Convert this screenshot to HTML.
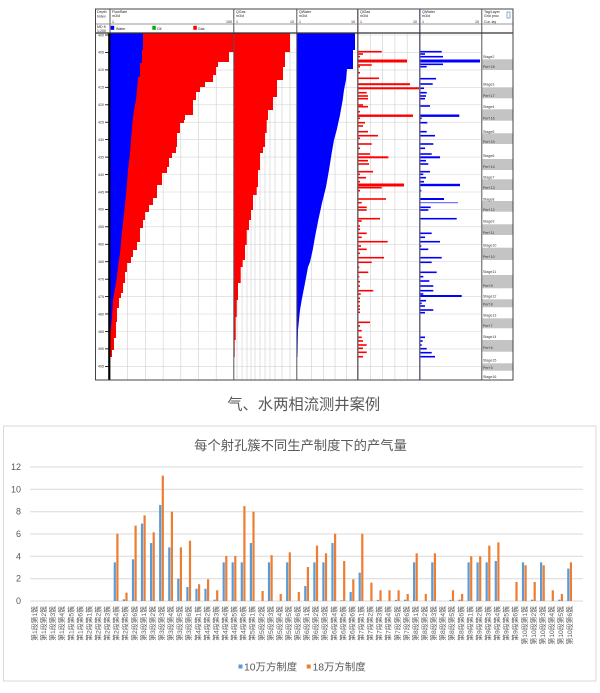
<!DOCTYPE html>
<html><head><meta charset="utf-8"><style>
html,body{margin:0;padding:0;background:#fff;}
body{width:600px;height:693px;overflow:hidden;}
svg{display:block;}
</style></head><body>
<svg width="600" height="693" viewBox="0 0 600 693" xmlns="http://www.w3.org/2000/svg" font-family="'Liberation Sans','Noto Sans CJK SC',sans-serif">
<rect x="0" y="0" width="600" height="693" fill="#fff"/>

<!-- ============ LOG CHART ============ -->
<!-- horizontal gridlines -->
<g stroke="#d6d6d6" stroke-width="0.6">
<line x1="110" y1="35" x2="481" y2="35"/><line x1="110" y1="52.4" x2="481" y2="52.4"/><line x1="110" y1="69.9" x2="481" y2="69.9"/><line x1="110" y1="87.3" x2="481" y2="87.3"/><line x1="110" y1="104.8" x2="481" y2="104.8"/><line x1="110" y1="122.2" x2="481" y2="122.2"/><line x1="110" y1="139.6" x2="481" y2="139.6"/><line x1="110" y1="157.1" x2="481" y2="157.1"/><line x1="110" y1="174.5" x2="481" y2="174.5"/><line x1="110" y1="192" x2="481" y2="192"/><line x1="110" y1="209.4" x2="481" y2="209.4"/><line x1="110" y1="226.8" x2="481" y2="226.8"/><line x1="110" y1="244.3" x2="481" y2="244.3"/><line x1="110" y1="261.7" x2="481" y2="261.7"/><line x1="110" y1="279.2" x2="481" y2="279.2"/><line x1="110" y1="296.6" x2="481" y2="296.6"/><line x1="110" y1="314" x2="481" y2="314"/><line x1="110" y1="331.5" x2="481" y2="331.5"/><line x1="110" y1="348.9" x2="481" y2="348.9"/><line x1="110" y1="366.4" x2="481" y2="366.4"/>
</g>
<!-- vertical gridlines -->
<g stroke="#cfcfcf" stroke-width="0.6">
<line x1="127.7" y1="33" x2="127.7" y2="380"/><line x1="145.4" y1="33" x2="145.4" y2="380"/><line x1="163.1" y1="33" x2="163.1" y2="380"/><line x1="180.8" y1="33" x2="180.8" y2="380"/><line x1="198.5" y1="33" x2="198.5" y2="380"/><line x1="216.2" y1="33" x2="216.2" y2="380"/>
<line x1="237" y1="33" x2="237" y2="380"/><line x1="242" y1="33" x2="242" y2="380"/><line x1="247" y1="33" x2="247" y2="380"/><line x1="251" y1="33" x2="251" y2="380"/><line x1="255" y1="33" x2="255" y2="380"/><line x1="260" y1="33" x2="260" y2="380"/><line x1="265" y1="33" x2="265" y2="380"/><line x1="270" y1="33" x2="270" y2="380"/><line x1="275" y1="33" x2="275" y2="380"/><line x1="282" y1="33" x2="282" y2="380"/><line x1="290" y1="33" x2="290" y2="380"/>
<line x1="311.5" y1="33" x2="311.5" y2="380"/><line x1="323.5" y1="33" x2="323.5" y2="380"/><line x1="335" y1="33" x2="335" y2="380"/><line x1="346.5" y1="33" x2="346.5" y2="380"/>
<line x1="370.3" y1="33" x2="370.3" y2="380"/><line x1="382.6" y1="33" x2="382.6" y2="380"/><line x1="394.9" y1="33" x2="394.9" y2="380"/><line x1="407.2" y1="33" x2="407.2" y2="380"/>
</g>

<!-- Track 1 red -->
<polygon fill="#ff0000" points="110,33 233.5,33 233.5,52 229,52 229,62 218,62 218,67 216,67 216,75 213,75 213,82 205,82 205,87 200,87 200,92 196,92 196,100 193,100 193,115 185,115 185,120 184,120 184,123 180,123 180,133 177,133 177,147 176,147 176,153 172,153 172,158 169,158 169,167 167,167 167,173 162,173 162,185 157,185 157,198 153,198 153,205 149,205 149,212 145,212 145,220 143,220 143,228 140,228 140,242 137,242 137,250 133,250 133,257 131,257 131,263 127,263 127,272 125,272 125,283 123,283 123,293 121,293 121,298 119,298 119,308 117,308 117,322 116,322 116,338 114,338 114,350 112,350 112,357 110,357"/>
<!-- Track 1 blue -->
<polygon fill="#0000ff" points="110,33 143,33 143,50 142,50 142,63 140,63 140,77 138,77 137,90 136,100 134,110 132.7,120 131,140 130,153 128,170 126.7,187 125,205 123.3,220 121.5,237 120,253 118,267 116,283 113,300 112,317 110.5,333 110,350"/>
<!-- Track 2 red -->
<polygon fill="#ff0000" points="234,33 290,33 290,52 285,52 285,67 283,67 283,80 277,80 277,97 273,97 273,110 268,110 268,120 266.7,120 266.7,133 265,133 265,147 263,147 263,153 260,153 260,170 258,170 258,187 256.7,187 256.7,195 253,195 253,210 251,210 251,220 249,220 249,230 246.7,230 246.7,245 245,245 245,260 242.7,260 242.7,267 240.7,267 240.7,283 238,283 238,300 236.7,300 236.7,317 235.7,317 235.7,340 234.7,340 234.7,357 234,357"/>
<!-- Track 3 blue -->
<polygon fill="#0000ff" points="297,33 355,33 355,50 353,50 353,69 347,69 346,80 344,90 342.7,100 340,115 336.7,130 334,140 331.7,153 329,170 326,187 322,203 318.3,220 315,237 312.7,250 310,262 308,267 305,283 301.7,300 300,310 298,330 297.5,357 297,357"/>

<!-- Track 4 red bars -->
<g fill="#ff0000">
<rect x="358.3" y="50.9" width="23.4" height="1.6"/><rect x="358.3" y="53.2" width="4.7" height="1.6"/><rect x="358.3" y="55.9" width="1.7" height="1.6"/><rect x="358.3" y="59.5" width="48.7" height="3"/><rect x="358.3" y="64.2" width="13.4" height="1.6"/><rect x="358.3" y="65.9" width="1.7" height="1.6"/><rect x="358.3" y="71.9" width="1.7" height="1.6"/><rect x="358.3" y="77.5" width="20.7" height="1.6"/><rect x="358.3" y="83.2" width="51.7" height="2"/><rect x="358.3" y="87.3" width="60.7" height="2"/><rect x="358.3" y="91.9" width="8.4" height="1.6"/><rect x="358.3" y="95.2" width="9.7" height="1.6"/><rect x="358.3" y="97.9" width="9.7" height="1.6"/><rect x="358.3" y="104.2" width="4.7" height="1.6"/><rect x="358.3" y="105.9" width="9.7" height="1.6"/><rect x="358.3" y="110.9" width="1.7" height="1.6"/><rect x="358.3" y="114.5" width="54.7" height="2.4"/><rect x="358.3" y="117.5" width="1.7" height="1.6"/><rect x="358.3" y="121.9" width="6.7" height="1.6"/><rect x="358.3" y="125.2" width="4.7" height="1.6"/><rect x="358.3" y="130.9" width="9.7" height="1.6"/><rect x="358.3" y="134.9" width="19.7" height="1.6"/><rect x="358.3" y="137.5" width="1.7" height="1.6"/><rect x="358.3" y="143.2" width="13.4" height="1.6"/><rect x="358.3" y="147.5" width="1.7" height="1.6"/><rect x="358.3" y="153.2" width="11.7" height="1.6"/><rect x="358.3" y="156.3" width="30" height="2"/><rect x="358.3" y="159.9" width="9.7" height="1.6"/><rect x="358.3" y="163.2" width="10.7" height="1.6"/><rect x="358.3" y="170.9" width="14.7" height="1.6"/><rect x="358.3" y="173.5" width="1.7" height="1.6"/><rect x="358.3" y="176.9" width="7.7" height="1.6"/><rect x="358.3" y="180.9" width="1.7" height="1.6"/><rect x="358.3" y="183.5" width="45.7" height="3"/><rect x="358.3" y="186.9" width="23.4" height="1.6"/><rect x="358.3" y="189.9" width="1.7" height="1.6"/><rect x="358.3" y="198.2" width="27.7" height="1.6"/><rect x="358.3" y="201.9" width="3.4" height="1.6"/><rect x="358.3" y="206.5" width="8.4" height="1.6"/><rect x="358.3" y="209.2" width="8.4" height="1.6"/><rect x="358.3" y="217.9" width="21.7" height="1.6"/><rect x="358.3" y="220.2" width="3.4" height="1.6"/><rect x="358.3" y="225.2" width="1.7" height="1.6"/><rect x="358.3" y="228.5" width="1.7" height="1.6"/><rect x="358.3" y="232.5" width="8.4" height="1.6"/><rect x="358.3" y="236.5" width="3.4" height="1.6"/><rect x="358.3" y="240.9" width="29.4" height="1.6"/><rect x="358.3" y="245.2" width="2.7" height="1.6"/><rect x="358.3" y="248.5" width="8.4" height="1.6"/><rect x="358.3" y="252.5" width="1.7" height="1.6"/><rect x="358.3" y="256.9" width="25.7" height="1.6"/><rect x="358.3" y="261.5" width="13.4" height="1.6"/><rect x="358.3" y="266.5" width="1" height="1.6"/><rect x="358.3" y="271.5" width="10" height="1.6"/><rect x="358.3" y="275.9" width="1" height="1.6"/><rect x="358.3" y="280.9" width="1.7" height="1.6"/><rect x="358.3" y="285.2" width="1.7" height="1.6"/><rect x="358.3" y="289.9" width="15" height="1.6"/><rect x="358.3" y="293.2" width="2.4" height="1.6"/><rect x="358.3" y="297.5" width="1.7" height="1.6"/><rect x="358.3" y="300.9" width="1.7" height="1.6"/><rect x="358.3" y="305.2" width="1.7" height="1.6"/><rect x="358.3" y="308.5" width="1.7" height="1.6"/><rect x="358.3" y="311.5" width="1.7" height="1.6"/><rect x="358.3" y="321.5" width="11.7" height="1.6"/><rect x="358.3" y="325.2" width="1.7" height="1.6"/><rect x="358.3" y="329.9" width="3.4" height="1.6"/><rect x="358.3" y="336.5" width="3.4" height="1.6"/><rect x="358.3" y="340.2" width="4.7" height="1.6"/><rect x="358.3" y="344.2" width="8.4" height="1.6"/><rect x="358.3" y="347.5" width="4.7" height="1.6"/><rect x="358.3" y="351.5" width="8.4" height="1.6"/><rect x="358.3" y="355.9" width="4.7" height="1.6"/>
</g>
<!-- Track 5 blue bars -->
<g fill="#0000ff">
<rect x="420.3" y="50.9" width="21.4" height="1.6"/><rect x="420.3" y="53.2" width="4.7" height="1.6"/><rect x="420.3" y="55.9" width="22.7" height="1.6"/><rect x="420.3" y="59.5" width="59.7" height="3"/><rect x="420.3" y="63.5" width="22.7" height="1.6"/><rect x="420.3" y="65.9" width="6.4" height="1.6"/><rect x="420.3" y="77.9" width="15.7" height="1.6"/><rect x="420.3" y="83.2" width="12.4" height="1.6"/><rect x="420.3" y="87.5" width="3.7" height="1.6"/><rect x="420.3" y="91.9" width="6.4" height="1.6"/><rect x="420.3" y="95.2" width="5.7" height="1.6"/><rect x="420.3" y="97.9" width="4.7" height="1.6"/><rect x="420.3" y="105.2" width="9.7" height="1.6"/><rect x="420.3" y="114.5" width="39" height="2.4"/><rect x="420.3" y="117.5" width="1.4" height="1.6"/><rect x="420.3" y="121.9" width="7" height="1.6"/><rect x="420.3" y="130.9" width="6.4" height="1.6"/><rect x="420.3" y="134.9" width="14.7" height="1.6"/><rect x="420.3" y="143.2" width="13" height="1.6"/><rect x="420.3" y="147.5" width="4.7" height="1.6"/><rect x="420.3" y="153.2" width="11.4" height="1.6"/><rect x="420.3" y="156.3" width="19.7" height="2"/><rect x="420.3" y="159.9" width="5.7" height="1.6"/><rect x="420.3" y="163.2" width="8" height="1.6"/><rect x="420.3" y="170.9" width="9.7" height="1.6"/><rect x="420.3" y="173.5" width="3" height="1.6"/><rect x="420.3" y="176.9" width="5.7" height="1.6"/><rect x="420.3" y="180.9" width="3.7" height="1.6"/><rect x="420.3" y="183.8" width="39.7" height="2.4"/><rect x="420.3" y="189.9" width="1" height="1.6"/><rect x="420.3" y="198" width="23.7" height="2"/><rect x="420.3" y="202.2" width="37.7" height="1" fill="#5555ff"/><rect x="420.3" y="206.5" width="10.4" height="1.6"/><rect x="420.3" y="209.2" width="8" height="1.6"/><rect x="420.3" y="217.9" width="36.4" height="1.6"/><rect x="420.3" y="232.5" width="11.4" height="1.6"/><rect x="420.3" y="236.5" width="4.7" height="1.6"/><rect x="420.3" y="240.9" width="19.7" height="1.6"/><rect x="420.3" y="245.2" width="1" height="1.6"/><rect x="420.3" y="248.5" width="8" height="1.6"/><rect x="420.3" y="256.9" width="21.4" height="1.6"/><rect x="420.3" y="261.5" width="11.4" height="1.6"/><rect x="420.3" y="271.5" width="16.4" height="1.6"/><rect x="420.3" y="275.9" width="3" height="1.6"/><rect x="420.3" y="280.2" width="9" height="1.6"/><rect x="420.3" y="285.2" width="13" height="1.6"/><rect x="420.3" y="289.9" width="13" height="1.6"/><rect x="420.3" y="293.2" width="3" height="1.6"/><rect x="420.3" y="295" width="41.4" height="2"/><rect x="420.3" y="299.9" width="5.7" height="1.6"/><rect x="420.3" y="302.5" width="1.4" height="1.6"/><rect x="420.3" y="305.2" width="4.7" height="1.6"/><rect x="420.3" y="309.2" width="13" height="1.6"/><rect x="420.3" y="311.9" width="4.7" height="1.6"/><rect x="420.3" y="336.5" width="4.7" height="1.6"/><rect x="420.3" y="340.2" width="2.4" height="1.6"/><rect x="420.3" y="344.2" width="1.4" height="1.6"/><rect x="420.3" y="347.9" width="6.4" height="1.6"/><rect x="420.3" y="351.9" width="11.4" height="1.6"/><rect x="420.3" y="355.9" width="14.7" height="1.6"/>
</g>

<!-- Track 6 gray blocks -->
<g fill="#c4c4c4">
<rect x="482.3" y="59.3" width="30.2" height="10.7"/><rect x="482.3" y="87.3" width="30.2" height="11"/><rect x="482.3" y="109.3" width="30.2" height="11.4"/><rect x="482.3" y="133.3" width="30.2" height="10.7"/><rect x="482.3" y="159" width="30.2" height="11"/><rect x="482.3" y="179.3" width="30.2" height="10.7"/><rect x="482.3" y="201" width="30.2" height="10.7"/><rect x="482.3" y="224.3" width="30.2" height="10.7"/><rect x="482.3" y="247.7" width="30.2" height="12.3"/><rect x="482.3" y="275" width="30.2" height="13.3"/><rect x="482.3" y="299.3" width="30.2" height="8"/><rect x="482.3" y="318.3" width="30.2" height="10"/><rect x="482.3" y="340" width="30.2" height="11.7"/><rect x="482.3" y="363.3" width="30.2" height="7.4"/>
</g>
<g font-size="3.6" fill="#333">
<text x="483" y="58">Stage2</text><text x="483" y="68">Perf 18</text>
<text x="483" y="85.5">Stage3</text><text x="483" y="97">Perf 17</text>
<text x="483" y="108">Stage4</text><text x="483" y="119.5">Perf 16</text>
<text x="483" y="133">Stage5</text><text x="483" y="143">Perf 15</text>
<text x="483" y="157">Stage6</text><text x="483" y="168">Perf 14</text>
<text x="483" y="178.5">Stage7</text><text x="483" y="189">Perf 13</text>
<text x="483" y="200.3">Stage8</text><text x="483" y="211">Perf 12</text>
<text x="483" y="222.3">Stage9</text><text x="483" y="234">Perf 11</text>
<text x="483" y="246.3">Stage10</text><text x="483" y="258">Perf 10</text>
<text x="483" y="273">Stage11</text><text x="483" y="287">Perf 9</text>
<text x="483" y="297.3">Stage12</text><text x="483" y="305.6">Perf 8</text>
<text x="483" y="316.3">Stage13</text><text x="483" y="327">Perf 7</text>
<text x="483" y="338">Stage14</text><text x="483" y="349">Perf 6</text>
<text x="483" y="361.3">Stage15</text><text x="483" y="369">Perf 5</text>
<text x="483" y="378">Stage16</text>
</g>

<!-- depth track -->
<g stroke="#000" stroke-width="0.8">
<line x1="105" y1="35" x2="109" y2="35"/><line x1="105" y1="52.4" x2="109" y2="52.4"/><line x1="105" y1="69.9" x2="109" y2="69.9"/><line x1="105" y1="87.3" x2="109" y2="87.3"/><line x1="105" y1="104.8" x2="109" y2="104.8"/><line x1="105" y1="122.2" x2="109" y2="122.2"/><line x1="105" y1="139.6" x2="109" y2="139.6"/><line x1="105" y1="157.1" x2="109" y2="157.1"/><line x1="105" y1="174.5" x2="109" y2="174.5"/><line x1="105" y1="192" x2="109" y2="192"/><line x1="105" y1="209.4" x2="109" y2="209.4"/><line x1="105" y1="226.8" x2="109" y2="226.8"/><line x1="105" y1="244.3" x2="109" y2="244.3"/><line x1="105" y1="261.7" x2="109" y2="261.7"/><line x1="105" y1="279.2" x2="109" y2="279.2"/><line x1="105" y1="296.6" x2="109" y2="296.6"/><line x1="105" y1="314" x2="109" y2="314"/><line x1="105" y1="331.5" x2="109" y2="331.5"/><line x1="105" y1="348.9" x2="109" y2="348.9"/><line x1="105" y1="366.4" x2="109" y2="366.4"/>
</g>
<g font-size="3.6" fill="#333">
<text x="98" y="36.3">400</text><text x="98" y="53.7">405</text><text x="98" y="71.2">410</text><text x="98" y="88.6">415</text><text x="98" y="106.1">420</text><text x="98" y="123.5">425</text><text x="98" y="140.9">430</text><text x="98" y="158.4">435</text><text x="98" y="175.8">440</text><text x="98" y="193.3">445</text><text x="98" y="210.7">450</text><text x="98" y="228.1">455</text><text x="98" y="245.6">460</text><text x="98" y="263">465</text><text x="98" y="280.5">470</text><text x="98" y="297.9">475</text><text x="98" y="315.3">480</text><text x="98" y="332.8">485</text><text x="98" y="350.2">490</text><text x="98" y="367.7">495</text>
</g>
<line x1="109.3" y1="33" x2="109.3" y2="380" stroke="#000" stroke-width="2.2"/>

<!-- track dividers and frame -->
<g stroke="#555" stroke-width="1" fill="none">
<line x1="233.8" y1="9" x2="233.8" y2="380"/>
<line x1="296.8" y1="9" x2="296.8" y2="380"/>
<line x1="481.8" y1="9" x2="481.8" y2="380"/>
<line x1="110" y1="9" x2="110" y2="33"/>
</g>
<line x1="357.8" y1="9" x2="357.8" y2="380" stroke="#6a5a5a" stroke-width="1.4"/>
<line x1="419.8" y1="9" x2="419.8" y2="380" stroke="#5a5a7a" stroke-width="1.4"/>
<line x1="95.5" y1="24" x2="513" y2="24" stroke="#777" stroke-width="0.7"/>
<line x1="95.5" y1="33" x2="513" y2="33" stroke="#333" stroke-width="1.2"/>
<rect x="95.5" y="9" width="417.5" height="371" fill="none" stroke="#444" stroke-width="1"/>

<!-- header texts -->
<g font-size="3.6" fill="#222">
<text x="97" y="13">Depth</text><text x="97" y="17.5">Index</text><text x="97" y="28">MD ft</text><text x="97" y="31.8">1:200</text>
<text x="112" y="13">FlowRate</text><text x="112" y="17">m3/d</text><text x="112" y="23">1</text><text x="226" y="23">100</text>
<text x="236" y="13">QGas</text><text x="236" y="17">m3/d</text><text x="236" y="23">1</text><text x="290" y="23">10</text>
<text x="299" y="13">QWater</text><text x="299" y="17">m3/d</text><text x="299" y="23">1</text><text x="351" y="23">10</text>
<text x="360" y="13">QiGas</text><text x="360" y="17">m3/d</text><text x="360" y="23">1</text><text x="413" y="23">10</text>
<text x="422" y="13">QiWater</text><text x="422" y="17">m3/d</text><text x="422" y="23">1</text><text x="475" y="23">10</text>
<text x="484" y="13">Tag/Layer</text><text x="484" y="17">Grid proc</text><text x="484" y="23">Cur. lay</text>
<text x="116" y="30">Water</text><text x="157" y="30">Oil</text><text x="198" y="30">Gas</text>
</g>
<rect x="110.7" y="25.8" width="3.5" height="4" fill="#0000ff"/>
<rect x="152.3" y="25.8" width="3.5" height="4" fill="#00b000"/>
<rect x="193.3" y="25.8" width="3.5" height="4" fill="#ff0000"/>
<rect x="507" y="12" width="3" height="6" fill="none" stroke="#4a7ab0" stroke-width="0.6"/>

<!-- caption -->
<text x="303.7" y="409.5" font-size="15.3" fill="#595959" text-anchor="middle">气、水两相流测井案例</text>

<!-- ============ BAR CHART ============ -->
<rect x="3.5" y="426" width="592.5" height="255" fill="#fff" stroke="#d9d9d9" stroke-width="1"/>
<text x="300.5" y="450" font-size="13.3" fill="#595959" text-anchor="middle">每个射孔簇不同生产制度下的产气量</text>

<g stroke="#d9d9d9" stroke-width="1">
<line x1="30" y1="467" x2="583" y2="467"/><line x1="30" y1="489.3" x2="583" y2="489.3"/><line x1="30" y1="511.7" x2="583" y2="511.7"/><line x1="30" y1="534" x2="583" y2="534"/><line x1="30" y1="556.3" x2="583" y2="556.3"/><line x1="30" y1="578.7" x2="583" y2="578.7"/><line x1="30" y1="601" x2="583" y2="601"/>
</g>
<g font-size="9" fill="#595959" text-anchor="end">
<text x="21" y="470">12</text><text x="21" y="492.3">10</text><text x="21" y="514.7">8</text><text x="21" y="537">6</text><text x="21" y="559.3">4</text><text x="21" y="581.7">2</text><text x="21" y="604">0</text>
</g>

<g fill="#5b9bd5">
<rect x="113.7" y="562.35" width="2.2" height="38.65"/>
<rect x="122.8" y="599.32" width="2.2" height="1.68"/>
<rect x="131.9" y="559.34" width="2.2" height="41.66"/>
<rect x="140.9" y="523.59" width="2.2" height="77.41"/>
<rect x="150.0" y="543.03" width="2.2" height="57.97"/>
<rect x="159.1" y="504.94" width="2.2" height="96.06"/>
<rect x="168.2" y="547.38" width="2.2" height="53.62"/>
<rect x="177.2" y="578.66" width="2.2" height="22.34"/>
<rect x="186.3" y="587.04" width="2.2" height="13.96"/>
<rect x="195.4" y="588.71" width="2.2" height="12.29"/>
<rect x="204.4" y="588.71" width="2.2" height="12.29"/>
<rect x="213.5" y="599.66" width="2.2" height="1.34"/>
<rect x="222.6" y="562.35" width="2.2" height="38.65"/>
<rect x="231.6" y="562.35" width="2.2" height="38.65"/>
<rect x="240.7" y="562.35" width="2.2" height="38.65"/>
<rect x="249.8" y="543.03" width="2.2" height="57.97"/>
<rect x="267.9" y="562.35" width="2.2" height="38.65"/>
<rect x="286.1" y="562.35" width="2.2" height="38.65"/>
<rect x="304.2" y="586.03" width="2.2" height="14.97"/>
<rect x="313.3" y="562.35" width="2.2" height="38.65"/>
<rect x="322.3" y="562.35" width="2.2" height="38.65"/>
<rect x="331.4" y="543.03" width="2.2" height="57.97"/>
<rect x="340.5" y="600.33" width="2.2" height="0.67"/>
<rect x="349.6" y="592.06" width="2.2" height="8.94"/>
<rect x="358.6" y="572.63" width="2.2" height="28.37"/>
<rect x="376.8" y="599.88" width="2.2" height="1.12"/>
<rect x="394.9" y="599.88" width="2.2" height="1.12"/>
<rect x="404.0" y="599.66" width="2.2" height="1.34"/>
<rect x="413.0" y="562.35" width="2.2" height="38.65"/>
<rect x="431.2" y="562.35" width="2.2" height="38.65"/>
<rect x="449.3" y="599.88" width="2.2" height="1.12"/>
<rect x="458.4" y="599.66" width="2.2" height="1.34"/>
<rect x="467.5" y="562.35" width="2.2" height="38.65"/>
<rect x="476.5" y="562.35" width="2.2" height="38.65"/>
<rect x="485.6" y="562.35" width="2.2" height="38.65"/>
<rect x="494.7" y="561.01" width="2.2" height="39.99"/>
<rect x="521.9" y="562.35" width="2.2" height="38.65"/>
<rect x="531.0" y="599.66" width="2.2" height="1.34"/>
<rect x="540.0" y="562.35" width="2.2" height="38.65"/>
<rect x="558.2" y="599.66" width="2.2" height="1.34"/>
<rect x="567.2" y="568.61" width="2.2" height="32.39"/>
</g>
<g fill="#ed7d31">
<rect x="116.3" y="533.64" width="2.2" height="67.36"/>
<rect x="125.4" y="592.62" width="2.2" height="8.38"/>
<rect x="134.5" y="525.6" width="2.2" height="75.4"/>
<rect x="143.5" y="515.33" width="2.2" height="85.67"/>
<rect x="152.6" y="532.3" width="2.2" height="68.7"/>
<rect x="161.7" y="475.67" width="2.2" height="125.33"/>
<rect x="170.8" y="511.64" width="2.2" height="89.36"/>
<rect x="179.8" y="547.38" width="2.2" height="53.62"/>
<rect x="188.9" y="540.68" width="2.2" height="60.32"/>
<rect x="198.0" y="584.24" width="2.2" height="16.76"/>
<rect x="207.0" y="579.33" width="2.2" height="21.67"/>
<rect x="216.1" y="590.28" width="2.2" height="10.72"/>
<rect x="225.2" y="555.98" width="2.2" height="45.02"/>
<rect x="234.2" y="555.98" width="2.2" height="45.02"/>
<rect x="243.3" y="506.05" width="2.2" height="94.95"/>
<rect x="252.4" y="511.64" width="2.2" height="89.36"/>
<rect x="261.5" y="590.95" width="2.2" height="10.05"/>
<rect x="270.5" y="555.2" width="2.2" height="45.8"/>
<rect x="279.6" y="593.96" width="2.2" height="7.04"/>
<rect x="288.7" y="552.3" width="2.2" height="48.7"/>
<rect x="297.7" y="592.06" width="2.2" height="8.94"/>
<rect x="306.8" y="567.04" width="2.2" height="33.96"/>
<rect x="315.9" y="545.6" width="2.2" height="55.4"/>
<rect x="324.9" y="553.3" width="2.2" height="47.7"/>
<rect x="334.0" y="533.64" width="2.2" height="67.36"/>
<rect x="343.1" y="561.01" width="2.2" height="39.99"/>
<rect x="352.2" y="579.33" width="2.2" height="21.67"/>
<rect x="361.2" y="533.64" width="2.2" height="67.36"/>
<rect x="370.3" y="582.68" width="2.2" height="18.32"/>
<rect x="379.4" y="590.28" width="2.2" height="10.72"/>
<rect x="388.4" y="590.28" width="2.2" height="10.72"/>
<rect x="397.5" y="590.28" width="2.2" height="10.72"/>
<rect x="406.6" y="593.96" width="2.2" height="7.04"/>
<rect x="415.6" y="553.3" width="2.2" height="47.7"/>
<rect x="424.7" y="593.96" width="2.2" height="7.04"/>
<rect x="433.8" y="553.3" width="2.2" height="47.7"/>
<rect x="451.9" y="590.28" width="2.2" height="10.72"/>
<rect x="461.0" y="593.96" width="2.2" height="7.04"/>
<rect x="470.1" y="556.32" width="2.2" height="44.68"/>
<rect x="479.1" y="556.32" width="2.2" height="44.68"/>
<rect x="488.2" y="545.6" width="2.2" height="55.4"/>
<rect x="497.3" y="542.36" width="2.2" height="58.64"/>
<rect x="515.4" y="582.01" width="2.2" height="18.99"/>
<rect x="524.5" y="565.26" width="2.2" height="35.74"/>
<rect x="533.6" y="582.01" width="2.2" height="18.99"/>
<rect x="542.6" y="565.26" width="2.2" height="35.74"/>
<rect x="551.7" y="590.28" width="2.2" height="10.72"/>
<rect x="560.8" y="593.96" width="2.2" height="7.04"/>
<rect x="569.8" y="562.35" width="2.2" height="38.65"/>
</g>

<!-- x-axis labels -->
<g font-size="6.8" fill="#595959" text-anchor="end">
<text transform="translate(37,606) rotate(-90)">第1段第1簇</text>
<text transform="translate(46.07,606) rotate(-90)">第1段第2簇</text>
<text transform="translate(55.14,606) rotate(-90)">第1段第3簇</text>
<text transform="translate(64.21,606) rotate(-90)">第1段第4簇</text>
<text transform="translate(73.28,606) rotate(-90)">第1段第5簇</text>
<text transform="translate(82.35,606) rotate(-90)">第1段第6簇</text>
<text transform="translate(91.42,606) rotate(-90)">第2段第1簇</text>
<text transform="translate(100.49,606) rotate(-90)">第2段第2簇</text>
<text transform="translate(109.56,606) rotate(-90)">第2段第3簇</text>
<text transform="translate(118.63,606) rotate(-90)">第2段第4簇</text>
<text transform="translate(127.7,606) rotate(-90)">第2段第5簇</text>
<text transform="translate(136.77,606) rotate(-90)">第2段第6簇</text>
<text transform="translate(145.84,606) rotate(-90)">第3段第1簇</text>
<text transform="translate(154.91,606) rotate(-90)">第3段第2簇</text>
<text transform="translate(163.98,606) rotate(-90)">第3段第3簇</text>
<text transform="translate(173.05,606) rotate(-90)">第3段第4簇</text>
<text transform="translate(182.12,606) rotate(-90)">第3段第5簇</text>
<text transform="translate(191.19,606) rotate(-90)">第3段第6簇</text>
<text transform="translate(200.26,606) rotate(-90)">第4段第1簇</text>
<text transform="translate(209.33,606) rotate(-90)">第4段第2簇</text>
<text transform="translate(218.4,606) rotate(-90)">第4段第3簇</text>
<text transform="translate(227.47,606) rotate(-90)">第4段第4簇</text>
<text transform="translate(236.54,606) rotate(-90)">第4段第5簇</text>
<text transform="translate(245.61,606) rotate(-90)">第4段第6簇</text>
<text transform="translate(254.68,606) rotate(-90)">第5段第1簇</text>
<text transform="translate(263.75,606) rotate(-90)">第5段第2簇</text>
<text transform="translate(272.82,606) rotate(-90)">第5段第3簇</text>
<text transform="translate(281.89,606) rotate(-90)">第5段第4簇</text>
<text transform="translate(290.96,606) rotate(-90)">第5段第5簇</text>
<text transform="translate(300.03,606) rotate(-90)">第5段第6簇</text>
<text transform="translate(309.1,606) rotate(-90)">第6段第1簇</text>
<text transform="translate(318.17,606) rotate(-90)">第6段第2簇</text>
<text transform="translate(327.24,606) rotate(-90)">第6段第3簇</text>
<text transform="translate(336.31,606) rotate(-90)">第6段第4簇</text>
<text transform="translate(345.38,606) rotate(-90)">第6段第5簇</text>
<text transform="translate(354.45,606) rotate(-90)">第6段第6簇</text>
<text transform="translate(363.52,606) rotate(-90)">第7段第1簇</text>
<text transform="translate(372.59,606) rotate(-90)">第7段第2簇</text>
<text transform="translate(381.66,606) rotate(-90)">第7段第3簇</text>
<text transform="translate(390.73,606) rotate(-90)">第7段第4簇</text>
<text transform="translate(399.8,606) rotate(-90)">第7段第5簇</text>
<text transform="translate(408.87,606) rotate(-90)">第7段第6簇</text>
<text transform="translate(417.94,606) rotate(-90)">第8段第1簇</text>
<text transform="translate(427.01,606) rotate(-90)">第8段第2簇</text>
<text transform="translate(436.08,606) rotate(-90)">第8段第3簇</text>
<text transform="translate(445.15,606) rotate(-90)">第8段第4簇</text>
<text transform="translate(454.22,606) rotate(-90)">第8段第5簇</text>
<text transform="translate(463.29,606) rotate(-90)">第8段第6簇</text>
<text transform="translate(472.36,606) rotate(-90)">第9段第1簇</text>
<text transform="translate(481.43,606) rotate(-90)">第9段第2簇</text>
<text transform="translate(490.5,606) rotate(-90)">第9段第3簇</text>
<text transform="translate(499.57,606) rotate(-90)">第9段第4簇</text>
<text transform="translate(508.64,606) rotate(-90)">第9段第5簇</text>
<text transform="translate(517.71,606) rotate(-90)">第9段第6簇</text>
<text transform="translate(526.78,606) rotate(-90)">第10段第1簇</text>
<text transform="translate(535.85,606) rotate(-90)">第10段第2簇</text>
<text transform="translate(544.92,606) rotate(-90)">第10段第3簇</text>
<text transform="translate(553.99,606) rotate(-90)">第10段第4簇</text>
<text transform="translate(563.06,606) rotate(-90)">第10段第5簇</text>
<text transform="translate(572.13,606) rotate(-90)">第10段第6簇</text>
</g>

<!-- legend -->
<rect x="238.5" y="664.5" width="4" height="4" fill="#5b9bd5"/>
<text x="244" y="670.5" font-size="10.4" fill="#595959">10万方制度</text>
<rect x="306.7" y="664.5" width="4" height="4" fill="#ed7d31"/>
<text x="312.5" y="670.5" font-size="10.4" fill="#595959">18万方制度</text>
</svg>
</body></html>
